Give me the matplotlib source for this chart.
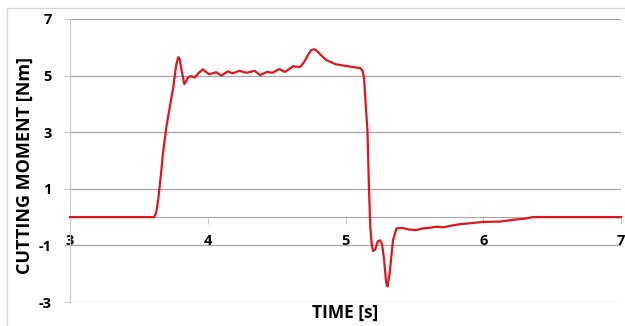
import matplotlib
matplotlib.use("Agg")
import matplotlib.pyplot as plt
from matplotlib.patches import Rectangle

time_s = [3.00, 3.61, 3.625, 3.64, 3.66, 3.675, 3.70, 3.75, 3.77, 3.785, 3.795, 3.81, 3.83, 3.86, 3.88, 3.905, 3.935, 3.965,
          3.99, 4.01, 4.035, 4.06, 4.10, 4.145, 4.18, 4.23, 4.28, 4.34, 4.38, 4.43, 4.47, 4.52, 4.56,
          4.62, 4.67, 4.70, 4.73, 4.75, 4.77, 4.79, 4.81, 4.86, 4.93, 5.03, 5.11, 5.125, 5.135, 5.145,
          5.16, 5.17, 5.18, 5.19, 5.20, 5.215, 5.235, 5.25, 5.265, 5.28, 5.295, 5.305, 5.32, 5.345,
          5.37, 5.41, 5.46, 5.51, 5.56, 5.61, 5.66, 5.71, 5.77, 5.83, 5.90, 6.00, 6.12,
          6.21, 6.31, 6.36, 6.50, 7.00]
moment_nm = [0.00, 0.00, 0.15, 0.60, 1.50, 2.26, 3.20, 4.60, 5.35, 5.65, 5.60, 5.20, 4.70, 4.95, 4.98, 4.93, 5.10, 5.22,
             5.12, 5.05, 5.08, 5.12, 5.00, 5.15, 5.08, 5.17, 5.10, 5.17, 5.02, 5.13, 5.10, 5.23, 5.13,
             5.33, 5.30, 5.48, 5.75, 5.90, 5.93, 5.88, 5.78, 5.55, 5.40, 5.32, 5.26, 5.15, 4.90, 4.10,
             3.00, 1.07, -0.35, -0.95, -1.20, -1.15, -0.85, -0.82, -0.95, -1.50, -2.30, -2.45, -2.00, -0.81,
             -0.40, -0.38, -0.44, -0.46, -0.40, -0.38, -0.34, -0.36, -0.30, -0.25, -0.22, -0.17, -0.16,
             -0.10, -0.05, 0.00, 0.00, 0.00]

x_ticks = [3, 4, 5, 6, 7]
y_ticks = [-3, -1, 1, 3, 5, 7]

plt.rcParams['font.family'] = ['Open Sans', 'DejaVu Sans']
plt.rcParams['font.weight'] = 'bold'
plt.rcParams['axes.unicode_minus'] = False

fig = plt.figure(figsize=(6.25, 3.26), dpi=100)
fig.patches.append(Rectangle((7/625, -0.05), 1.2, 1 - 8/326 + 0.05, transform=fig.transFigure,
                             fill=False, edgecolor='#d9d9d9', linewidth=1))
ax = fig.add_axes([70/625, 24/326, 551/625, 283/326])

ax.plot(time_s, moment_nm, color='#e0161e', linewidth=1.6, zorder=3, clip_on=False,
        solid_joinstyle='round')

ax.set_xlim(3, 7)
ax.set_ylim(-3, 7)
ax.set_xticks(x_ticks)
ax.set_yticks(y_ticks)
ax.yaxis.grid(True, color='#a6a6a6', linewidth=0.9)
ax.set_axisbelow(True)

for s in ['top', 'right']:
    ax.spines[s].set_visible(False)
ax.spines['bottom'].set_position(('data', 0))
ax.spines['bottom'].set_color('#a6a6a6')
ax.spines['left'].set_color('#c8c8c8')
ax.tick_params(axis='x', direction='out', length=5, color='#c8c8c8', pad=7, labelsize=10.5)
ax.tick_params(axis='y', direction='out', length=4, color='#c8c8c8', pad=9, labelsize=10.5)
for lbl in ax.get_xticklabels() + ax.get_yticklabels():
    lbl.set_fontweight('bold')

fig.text(25/625, 1 - 165/326, 'CUTTING MOMENT [Nm]', rotation=90, ha='center', va='center',
         fontsize=13, fontweight='bold')
fig.text(345.5/625, 1 - 313/326, 'TIME [s]', ha='center', va='center',
         fontsize=12.5, fontweight='bold')

fig.savefig('out.png', dpi=100)
